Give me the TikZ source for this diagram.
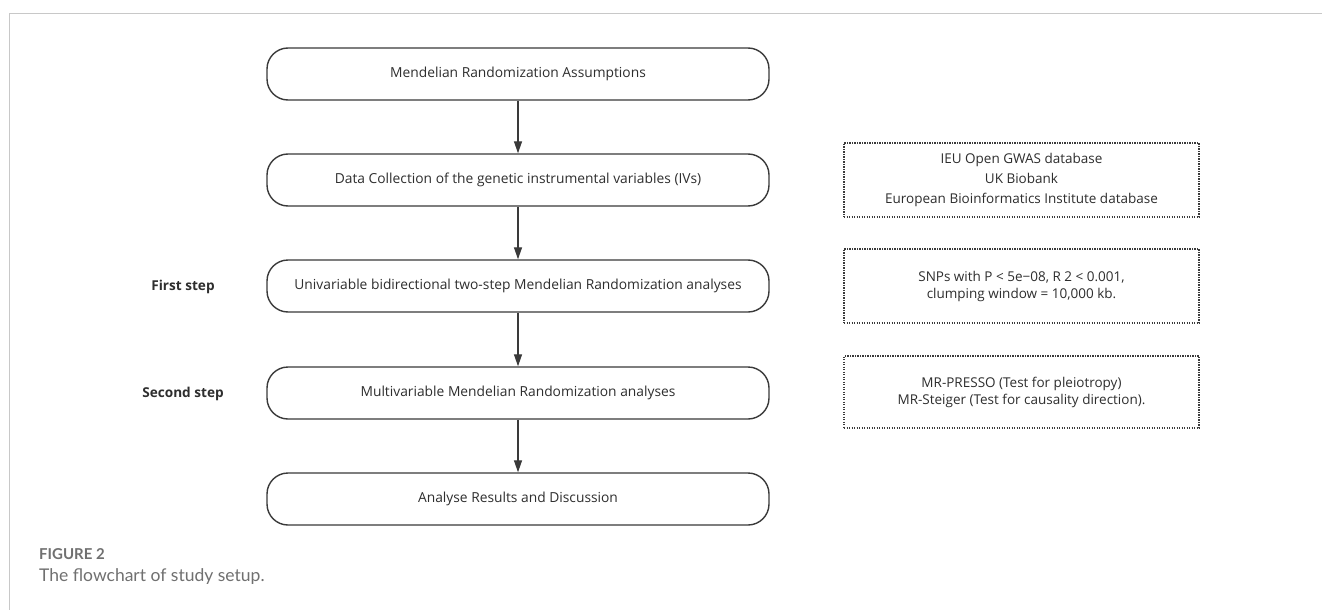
\documentclass[tikz,border=0pt]{standalone}
\usepackage{fontspec}
\setmainfont{Open Sans}
\newfontfamily\capfont{Lato}
\usetikzlibrary{arrows.meta}
\definecolor{linec}{HTML}{3A3A3A}
\definecolor{txtc}{HTML}{2E2E2E}
\definecolor{framec}{HTML}{C8C8C8}
\definecolor{capc}{HTML}{707070}
\tikzset{
  rbox/.style={draw=linec, line width=1.4pt, rounded corners=21pt, minimum width=502pt, minimum height=52pt, inner sep=0pt, text=txtc, font=\fontsize{13.8}{16}\selectfont},
  dbox/.style={draw=linec, line width=1.3pt, dash pattern=on 1.2pt off 1.3pt, minimum width=355pt, inner sep=0pt, align=center, text=txtc},
  steplabel/.style={text=txtc, font=\fontsize{13.6}{16}\selectfont\bfseries},
  flowarrow/.style={draw=linec, line width=1.3pt, -{Triangle[length=12pt,width=8pt]}},
}
\begin{document}
\begin{tikzpicture}[x=1pt,y=-1pt]
\useasboundingbox (0,0) rectangle (1322,610);
\fill[white] (0,0) rectangle (1322,610);
% frame
\draw[framec, line width=1pt] (9,610) -- (9,13.5) -- (1322,13.5);
% flow boxes
\node[rbox] (b1) at (518,74) {Mendelian Randomization Assumptions};
\node[rbox] (b2) at (518,180) {Data Collection of the genetic instrumental variables (IVs)};
\node[rbox] (b3) at (518,286) {Univariable bidirectional two-step Mendelian Randomization analyses};
\node[rbox] (b4) at (518,393) {Multivariable Mendelian Randomization analyses};
\node[rbox] (b5) at (518,499) {Analyse Results and Discussion};
\draw[flowarrow] (b1) -- (b2);
\draw[flowarrow] (b2) -- (b3);
\draw[flowarrow] (b3) -- (b4);
\draw[flowarrow] (b4) -- (b5);
% side labels
\node[steplabel] (l1) at (183,287) {First step};
\node[steplabel] (l2) at (183,394) {Second step};
% dotted boxes
\node[dbox, minimum height=74pt, font=\fontsize{13.5}{20}\selectfont] (d1) at (1021.5,180) {IEU Open GWAS database\\UK Biobank\\European Bioinformatics Institute database};
\node[dbox, minimum height=74pt, font=\fontsize{13.5}{17}\selectfont] (d2) at (1021.5,286) {SNPs with P < 5e\textminus08, R 2 < 0.001,\\clumping window = 10,000 kb.};
\node[dbox, minimum height=72pt, font=\fontsize{13.5}{17}\selectfont] (d3) at (1021.5,392) {MR-PRESSO (Test for pleiotropy)\\MR-Steiger (Test for causality direction).};
% caption
\node[anchor=west, text=capc, font=\capfont\fontsize{15}{18}\selectfont\bfseries, inner sep=0pt] (cap1) at (39,554) {FIGURE 2};
\node[anchor=west, text=capc, font=\capfont\fontsize{17.5}{20}\selectfont, inner sep=0pt] (cap2) at (39,577) {The flowchart of study setup.};
\end{tikzpicture}
\end{document}
